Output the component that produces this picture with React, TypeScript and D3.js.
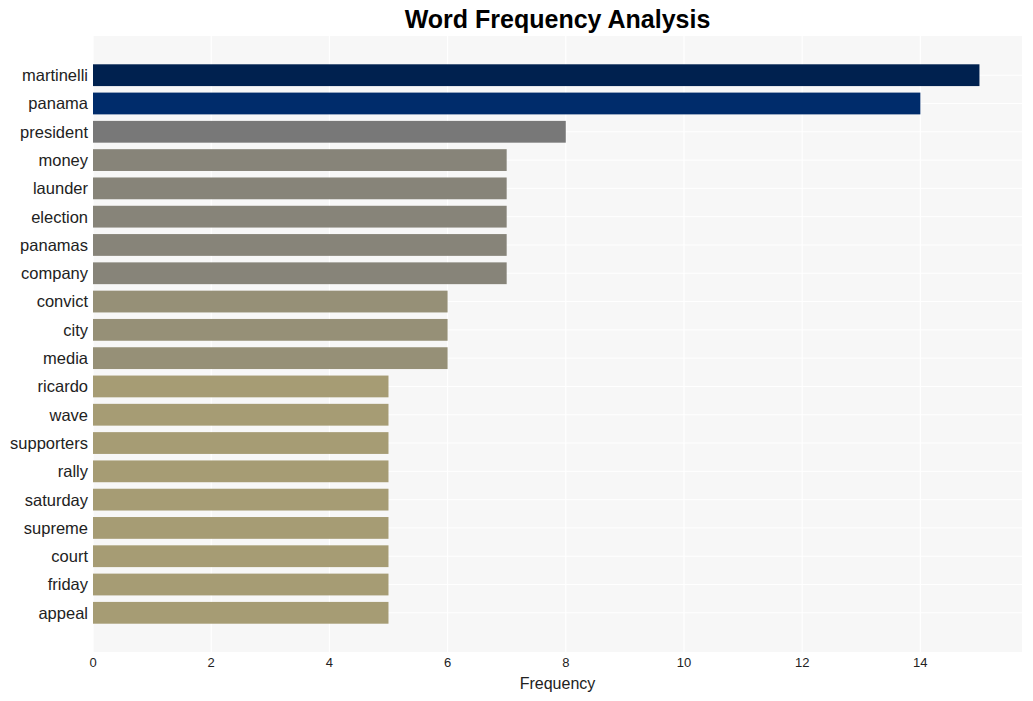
import React from "react";
import * as d3 from "d3";

const words = ["martinelli","panama","president","money","launder","election","panamas","company","convict","city","media","ricardo","wave","supporters","rally","saturday","supreme","court","friday","appeal"];
const counts = [15,14,8,7,7,7,7,7,6,6,6,5,5,5,5,5,5,5,5,5];
const colorByCount: Record<number,string> = {15:"#00214f",14:"#002c6b",8:"#787878",7:"#878479",6:"#969077",5:"#a69c74"};
const xTicks = [0,2,4,6,8,10,12,14];

export default function App() {
  const W = 1033, H = 701;
  const left = 93, right = 1022, top = 36, bottom = 652;
  const x = d3.scaleLinear().domain([0, 15.72]).range([left, right]);
  const y = d3.scaleBand<string>().domain(words).range([top, bottom]).paddingInner(0.23).paddingOuter(1.0);
  const font = "'Liberation Sans', Arial, Helvetica, sans-serif";
  return (
    <svg width={W} height={H} style={{position:"absolute", left:0, top:0, fontFamily: font}}>
      <rect x={0} y={0} width={W} height={H} fill="#ffffff" />
      <text x={(left+right)/2} y={28} textAnchor="middle" fontSize={25} fontWeight="bold" fill="#000">Word Frequency Analysis</text>
      <rect x={left} y={top} width={right-left} height={bottom-top} fill="#f7f7f7" />
      {xTicks.map(t => (
        <line key={"g"+t} x1={x(t)} x2={x(t)} y1={top} y2={bottom} stroke="#ffffff" strokeWidth={1.2} />
      ))}
      {words.map(w => (
        <line key={"h"+w} x1={left} x2={right} y1={(y(w) as number)+y.bandwidth()/2} y2={(y(w) as number)+y.bandwidth()/2} stroke="#ffffff" strokeWidth={1} />
      ))}
      {words.map((w,i) => (
        <rect key={w} x={x(0)} y={y(w)} width={x(counts[i])-x(0)} height={y.bandwidth()} fill={colorByCount[counts[i]]} />
      ))}
      {words.map(w => (
        <text key={"l"+w} x={left-5} y={(y(w) as number)+y.bandwidth()/2} dy="0.36em" textAnchor="end" fontSize={16.5} fill="#222">{w}</text>
      ))}
      {xTicks.map(t => (
        <text key={"t"+t} x={x(t)} y={667} textAnchor="middle" fontSize={13} fill="#222">{t}</text>
      ))}
      <text x={(left+right)/2} y={689} textAnchor="middle" fontSize={16} fill="#222">Frequency</text>
    </svg>
  );
}
